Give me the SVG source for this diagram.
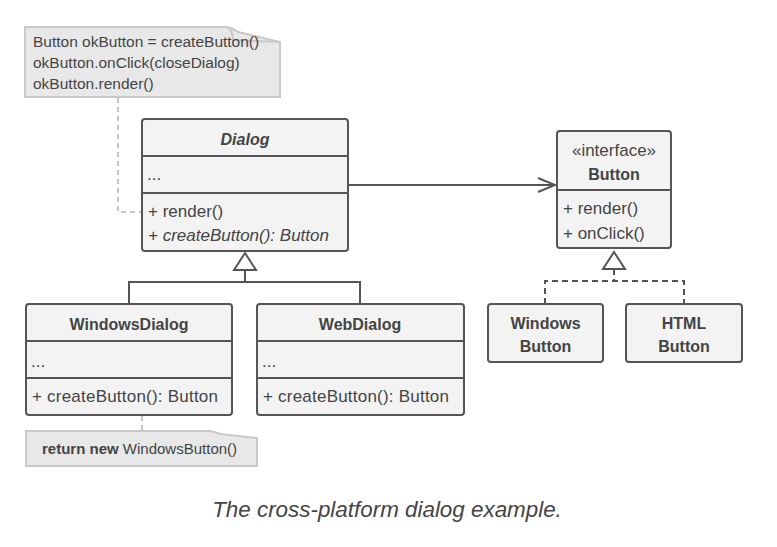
<svg xmlns="http://www.w3.org/2000/svg" width="777" height="547" viewBox="0 0 777 547">
<defs>
<style>
text{font-family:"Liberation Sans",Arial,sans-serif;fill:#444;}
.box{fill:#f3f3f3;stroke:#555;stroke-width:2;}
.div{stroke:#555;stroke-width:2;fill:none;}
.note{fill:#e8e8e8;stroke:#c9c9c9;stroke-width:2;}
.t{font-size:17px;}
.title{font-size:16px;font-weight:bold;text-anchor:middle;}
.mono{font-size:15.5px;}
.line{stroke:#555;stroke-width:2;fill:none;}
.dash{stroke:#555;stroke-width:2;fill:none;stroke-dasharray:6,4;}
.ndash{stroke:#c4c4c4;stroke-width:2;fill:none;stroke-dasharray:5,4;}
.tri{fill:#fff;stroke:#555;stroke-width:2;}
</style>
<marker id="open" markerWidth="20" markerHeight="16" refX="18" refY="8" orient="auto" markerUnits="userSpaceOnUse">
<path d="M1,1 L18,8 L1,15" fill="none" stroke="#555" stroke-width="2"/>
</marker>
</defs>

<g id="connectors">
<polyline class="ndash" points="118,98 118,212 141,212"/>
<line class="ndash" x1="142" y1="416" x2="142" y2="430"/>
<line class="line" x1="349" y1="185" x2="555" y2="185" marker-end="url(#open)"/>
<polyline class="line" points="129,303 129,282 360,282 360,303"/>
<line class="line" x1="245" y1="270" x2="245" y2="282"/>
<polygon class="tri" points="245,253 234,270 256,270"/>
<polyline class="dash" points="545,304 545,281 684,281 684,304"/>
<line class="dash" x1="614" y1="269" x2="614" y2="281"/>
<polygon class="tri" points="614,252 603,269 625,269"/>
</g>

<g id="note1">
<path class="note" d="M25,27 H227 Q233,28 238,32 L280,42 V97 H25 Z"/>
<path d="M227,27 Q233,30 233,40 L280,42" fill="none" stroke="#c9c9c9" stroke-width="2"/>
<text class="mono" x="33" y="47">Button okButton = createButton()</text>
<text class="mono" x="33" y="68">okButton.onClick(closeDialog)</text>
<text class="mono" x="33" y="89">okButton.render()</text>
</g>

<g id="Dialog">
<rect class="box" x="142" y="119" width="206" height="132" rx="3"/>
<line class="div" x1="142" y1="156" x2="348" y2="156"/>
<line class="div" x1="142" y1="193" x2="348" y2="193"/>
<text class="title" x="245" y="145" font-style="italic">Dialog</text>
<text class="t" x="147" y="180">...</text>
<text class="t" x="148" y="217">+ render()</text>
<text class="t" x="148" y="241" font-style="italic">+ createButton(): Button</text>
</g>

<g id="Button">
<rect class="box" x="557" y="131" width="114" height="117" rx="3"/>
<line class="div" x1="557" y1="190" x2="671" y2="190"/>
<text class="t" x="614" y="156" text-anchor="middle">«interface»</text>
<text class="title" x="614" y="180">Button</text>
<text class="t" x="563" y="214">+ render()</text>
<text class="t" x="563" y="239">+ onClick()</text>
</g>

<g id="WindowsDialog">
<rect class="box" x="26" y="304" width="206" height="111" rx="3"/>
<line class="div" x1="26" y1="341" x2="232" y2="341"/>
<line class="div" x1="26" y1="378" x2="232" y2="378"/>
<text class="title" x="129" y="330">WindowsDialog</text>
<text class="t" x="31" y="367">...</text>
<text class="t" x="32" y="402" textLength="186">+ createButton(): Button</text>
</g>

<g id="WebDialog">
<rect class="box" x="257" y="304" width="207" height="111" rx="3"/>
<line class="div" x1="257" y1="341" x2="464" y2="341"/>
<line class="div" x1="257" y1="378" x2="464" y2="378"/>
<text class="title" x="360" y="330">WebDialog</text>
<text class="t" x="262" y="367">...</text>
<text class="t" x="263" y="402" textLength="186">+ createButton(): Button</text>
</g>

<g id="WindowsButton">
<rect class="box" x="488" y="304" width="115" height="58" rx="3"/>
<text class="title" x="545.5" y="329">Windows</text>
<text class="title" x="545.5" y="352">Button</text>
</g>

<g id="HTMLButton">
<rect class="box" x="626" y="304" width="116" height="58" rx="3"/>
<text class="title" x="684" y="329">HTML</text>
<text class="title" x="684" y="352">Button</text>
</g>

<g id="note2">
<path class="note" d="M26,431 H210 Q215,432 220,434 L257,438 V466 H26 Z"/>
<text x="42" y="454" font-size="15"><tspan font-weight="bold">return new</tspan> WindowsButton()</text>
</g>

<text x="387" y="517" font-size="22.4" font-style="italic" text-anchor="middle">The cross-platform dialog example.</text>
</svg>
